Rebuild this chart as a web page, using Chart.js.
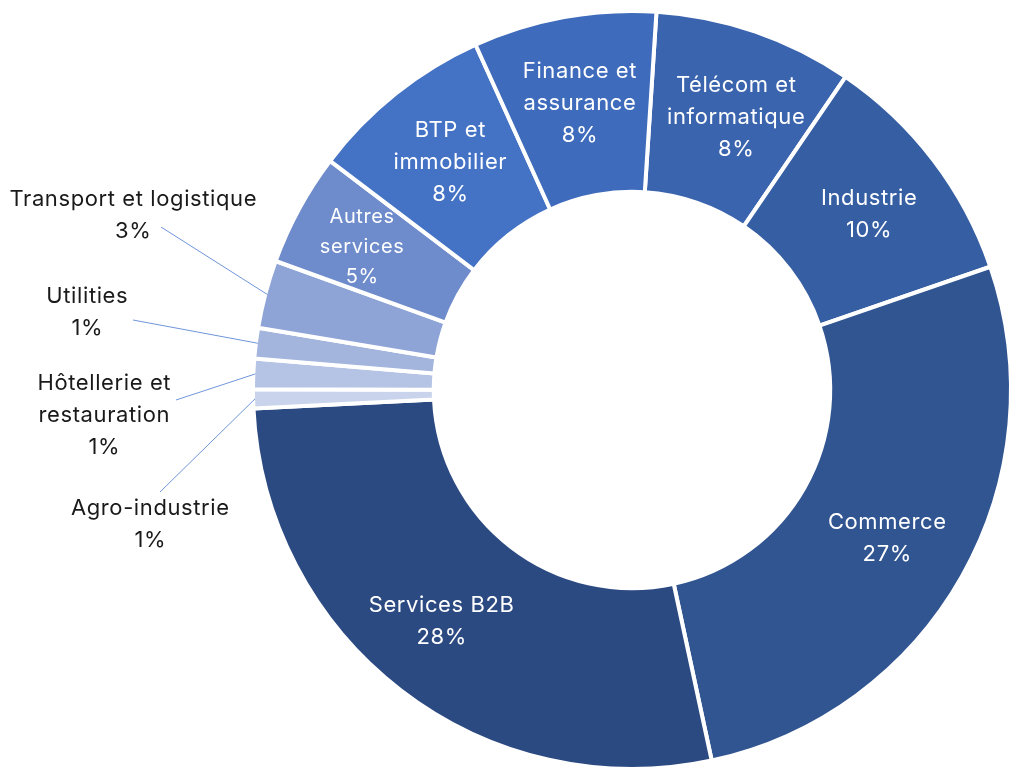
<!DOCTYPE html>
<html><head><meta charset="utf-8">
<script src="https://cdn.jsdelivr.net/npm/chart.js@4.4.1/dist/chart.umd.min.js"></script>
<style>html,body{margin:0;padding:0;background:#fff;}canvas{display:block;}</style>
</head><body>
<canvas id="c" width="1024" height="781"></canvas>
<script>
// ---- data ----
const categories = ["Télécom et informatique", "Industrie", "Commerce", "Services B2B", "Agro-industrie", "Hôtellerie et restauration", "Utilities", "Transport et logistique", "Autres services", "BTP et immobilier", "Finance et assurance"];
const shares = [8.5, 10.2, 26.9, 27.6, 0.8, 1.3, 1.3, 2.9, 4.8, 7.9, 7.8];
const shownPercent = ["8%", "10%", "27%", "28%", "1%", "1%", "1%", "3%", "5%", "8%", "8%"];
const labelLines = [["Télécom et", "informatique"], ["Industrie"], ["Commerce"], ["Services B2B"], ["Agro-industrie"], ["Hôtellerie et", "restauration"], ["Utilities"], ["Transport et logistique"], ["Autres", "services"], ["BTP et", "immobilier"], ["Finance et", "assurance"]];
const sliceColors = ["#3a64ad", "#355ea3", "#315591", "#2c4a82", "#c9d3ec", "#b5c3e4", "#a3b4dd", "#8ea4d6", "#6e8bcb", "#4472c4", "#3e6bbb"];

// ---- label placement / style (not data) ----
const FONT = "Inter, 'Open Sans', sans-serif";
const outsideLabels = {
  7: { x: 133, y: 199, from: [161, 227] },
  6: { x: 87, y: 296, from: [133, 320] },
  5: { x: 104, y: 383, from: [176, 400] },
  4: { x: 150, y: 508, from: [160, 492] }
};
const insideFontSize = { 8: 20 };
const labelNudge = { 0: [9, 3], 3: [-13, 0], 8: [-14, -4], 2: [1, 5], 1: [5, 1] };

function drawText(ctx, t, x, y) {
  // compensate trailing letter spacing so text stays centred
  ctx.fillText(t, x + 0.3, y);
}

const labelPlugin = {
  id: 'sliceLabels',
  afterDatasetsDraw(chart) {
    const ctx = chart.ctx;
    const meta = chart.getDatasetMeta(0);
    ctx.save();
    ctx.textAlign = 'center';
    ctx.textBaseline = 'middle';
    if ('letterSpacing' in ctx) ctx.letterSpacing = '0.6px';
    meta.data.forEach((arc, i) => {
      const p = arc.getProps(['x', 'y', 'startAngle', 'endAngle', 'innerRadius', 'outerRadius'], true);
      const mid = (p.startAngle + p.endAngle) / 2;
      const lines = labelLines[i].concat([shownPercent[i]]);
      if (outsideLabels[i]) {
        const o = outsideLabels[i];
        const r = p.outerRadius - 2;
        ctx.strokeStyle = '#6f96d9';
        ctx.lineWidth = 1;
        ctx.beginPath();
        ctx.moveTo(o.from[0], o.from[1]);
        ctx.lineTo(p.x + r * Math.cos(mid), p.y + r * Math.sin(mid));
        ctx.stroke();
        ctx.fillStyle = '#1a1a1a';
        ctx.font = '400 22px ' + FONT;
        lines.forEach((t, k) => drawText(ctx, t, o.x, o.y + k * 32));
      } else {
        const fs = insideFontSize[i] || 22;
        const lh = fs > 21 ? 32 : 30;
        const r = (p.innerRadius + p.outerRadius) / 2 + 3;
        const nd = labelNudge[i] || [0, 0];
        const cx = p.x + r * Math.cos(mid) + nd[0];
        const cy = p.y + r * Math.sin(mid) + nd[1];
        ctx.fillStyle = '#ffffff';
        ctx.font = '400 ' + fs + 'px ' + FONT;
        const y0 = cy - (lines.length - 1) * lh / 2;
        lines.forEach((t, k) => drawText(ctx, t, cx, y0 + k * lh));
      }
    });
    ctx.restore();
  }
};

new Chart(document.getElementById('c'), {
  type: 'doughnut',
  data: {
    labels: categories,
    datasets: [{
      data: shares,
      backgroundColor: sliceColors,
      borderColor: '#ffffff',
      borderWidth: 4,
      hoverOffset: 0
    }]
  },
  options: {
    responsive: false,
    animation: false,
    rotation: 3.7,
    radius: 379,
    cutout: '52.3%',
    layout: { padding: { left: 240, right: 0, top: 0, bottom: 1 } },
    plugins: { legend: { display: false }, tooltip: { enabled: false } }
  },
  plugins: [labelPlugin]
});
</script>
</body></html>
